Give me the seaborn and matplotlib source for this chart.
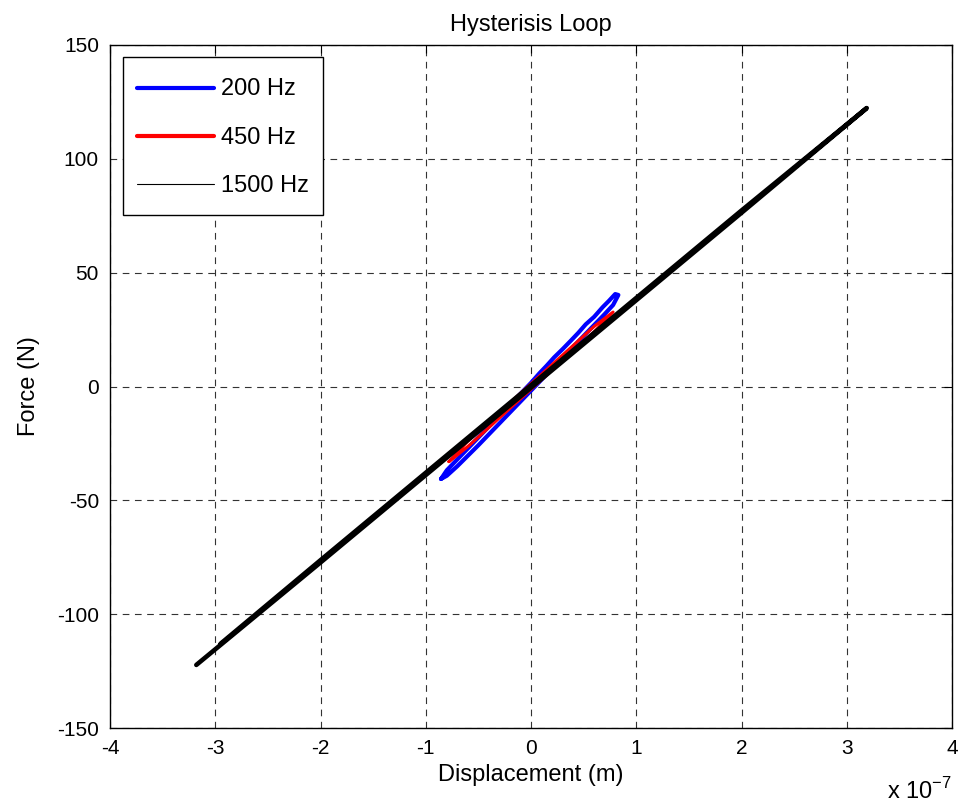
import numpy as np
import pandas as pd
import matplotlib
matplotlib.use("Agg")
import matplotlib.pyplot as plt
import seaborn as sns

# Datos (desplazamiento en unidades de 1e-7 m, fuerza en N)
blue_x = [-0.855, -0.80, -0.70, -0.60, -0.50, -0.40, -0.30, -0.20, -0.10, 0.00,
          0.10, 0.20, 0.30, 0.40, 0.50, 0.60, 0.70, 0.78, 0.83,
          0.80, 0.74, 0.68, 0.60, 0.52, 0.45, 0.38, 0.30, 0.22, 0.15, 0.08,
          0.00, -0.10, -0.20, -0.30, -0.40, -0.50, -0.60, -0.70, -0.80, -0.855]
blue_y = [-40.6, -39.2, -35.0, -30.4, -25.8, -21.0, -16.2, -11.4, -6.6, -1.8,
          3.0, 7.8, 12.6, 17.4, 22.2, 27.0, 31.8, 35.8, 40.2,
          40.6, 37.6, 34.8, 30.6, 27.3, 23.6, 20.2, 16.4, 12.8, 9.2, 5.8,
          1.6, -3.2, -8.0, -12.8, -17.6, -22.4, -27.2, -32.0, -36.8, -40.6]

red_x = [-0.78, -0.60, -0.40, -0.20, 0.00, 0.20, 0.40, 0.60, 0.78,
         0.60, 0.40, 0.20, 0.00, -0.20, -0.40, -0.60, -0.78]
red_y = [-33.0, -26.4, -18.0, -9.6, -1.2, 7.2, 15.6, 24.0, 32.7,
         26.4, 18.0, 9.6, 1.2, -7.2, -15.6, -24.0, -33.0]

black_x = [-3.18, -2.0, -1.0, 0.0, 1.0, 2.0, 3.19,
           2.0, 1.0, 0.0, -1.0, -2.0, -2.95]
black_y = [-122.3, -77.3, -38.9, -0.5, 37.9, 76.3, 122.3,
           77.3, 38.9, 0.5, -37.9, -76.3, -113.0]

labels = ["200 Hz", "450 Hz", "1500 Hz"]
colors = ["#0000ff", "#ff0000", "#000000"]
widths = [3.0, 2.2, 3.3]

df = pd.concat([
    pd.DataFrame({"x": blue_x, "y": blue_y, "freq": labels[0]}),
    pd.DataFrame({"x": red_x, "y": red_y, "freq": labels[1]}),
    pd.DataFrame({"x": black_x, "y": black_y, "freq": labels[2]}),
], ignore_index=True)

sns.set_style("white")
plt.rcParams['font.family'] = ['Liberation Sans', 'DejaVu Sans']
plt.rcParams['mathtext.fontset'] = 'custom'
plt.rcParams['mathtext.rm'] = 'Liberation Sans'
plt.rcParams['axes.unicode_minus'] = False
plt.rcParams['text.color'] = 'black'
plt.rcParams['axes.labelcolor'] = 'black'
plt.rcParams['xtick.color'] = 'black'
plt.rcParams['ytick.color'] = 'black'

fig = plt.figure(figsize=(9.6, 8.02), dpi=100)
ax = fig.add_axes([110 / 960, 1 - 728 / 802, 842 / 960, 683 / 802])

for lab, col, lw in zip(labels, colors, widths):
    sns.lineplot(data=df[df["freq"] == lab], x="x", y="y", sort=False,
                 estimator=None, color=col, linewidth=lw, label=lab, ax=ax,
                 solid_capstyle="round")

ax.set_xlim(-4, 4)
ax.set_ylim(-150, 150)
ax.set_xticks(range(-4, 5))
ax.set_yticks(range(-150, 151, 50))
ax.tick_params(direction="in", length=6, top=True, right=True, labelsize=15,
               pad=8, width=0.8, colors="black")
ax.grid(True, linestyle=(0, (6, 5)), color="#333333", linewidth=0.8)
for s in ax.spines.values():
    s.set_color("black")
    s.set_linewidth(1.0)

ax.set_title("Hysterisis Loop", fontsize=17, pad=10, color="black")
ax.set_xlabel("Displacement (m)", fontsize=17, labelpad=4)
ax.set_ylabel("Force (N)", fontsize=17, labelpad=12)
ax.text(1.0, -0.073, r"x 10$^{\mathregular{-7}}$", transform=ax.transAxes,
        fontsize=17, ha="right", va="top")

leg = ax.legend(loc="upper left", bbox_to_anchor=(13 / 842, 1 - 12 / 683),
                fontsize=17, handlelength=3.25, handletextpad=0.3,
                handleheight=1.8, labelspacing=0.62, borderpad=0.6,
                frameon=True, fancybox=False, framealpha=1,
                edgecolor="black", borderaxespad=0)
leg.get_frame().set_linewidth(1.0)
for ln, lw in zip(leg.get_lines(), [3, 3, 0.8]):
    ln.set_linewidth(lw)
    # bajar la muestra de linea para centrarla con el texto
    ln.set_ydata(np.asarray(ln.get_ydata()) - 3.6)

fig.savefig("out.png", dpi=100)
